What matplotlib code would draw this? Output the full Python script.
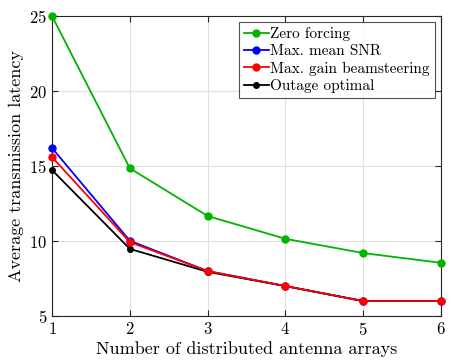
import matplotlib.pyplot as plt

plt.rcParams['font.family'] = 'serif'
plt.rcParams['font.serif'] = ['cmr10']
plt.rcParams['mathtext.fontset'] = 'cm'
plt.rcParams['axes.formatter.use_mathtext'] = True

# Data
n_arrays = [1, 2, 3, 4, 5, 6]
zero_forcing = [25.0, 14.85, 11.67, 10.15, 9.2, 8.55]
max_mean_snr = [16.2, 10.02, 8.0, 7.0, 6.0, 6.0]
max_gain_bs = [15.6, 9.93, 8.0, 7.0, 6.0, 6.0]
outage_opt = [14.73, 9.48, 7.95, 7.0, 6.0, 6.0]

fig = plt.figure(figsize=(4.5, 3.6), dpi=100)
ax = fig.add_axes([0.1156, 0.122, 0.8644, 0.8336])

ax.plot(n_arrays, zero_forcing, '-o', color='#00b400', lw=1.3, ms=5, label='Zero forcing', clip_on=False, zorder=3)
ax.plot(n_arrays, max_mean_snr, '-o', color='#0000ff', lw=1.3, ms=5, label='Max. mean SNR', clip_on=False, zorder=3)
ax.plot(n_arrays, max_gain_bs, '-o', color='#ff0000', lw=1.3, ms=5, label='Max. gain beamsteering', clip_on=False, zorder=4)
ax.plot(n_arrays, outage_opt, '-o', color='#000000', lw=1.3, ms=4, label='Outage optimal', clip_on=False, zorder=3)

ax.set_xlim(1, 6)
ax.set_ylim(5, 25)
ax.set_xticks(n_arrays)
ax.set_yticks([5, 10, 15, 20, 25])
ax.grid(True, color='#e0e0e0', lw=0.8)
ax.set_axisbelow(True)
ax.tick_params(direction='in', top=True, right=True, labelsize=12, length=4, color='#262626')
for s in ax.spines.values():
    s.set_color('#262626')
    s.set_linewidth(0.8)

ax.set_xlabel('Number of distributed antenna arrays', fontsize=13, labelpad=2)
ax.set_ylabel('Average transmission latency', fontsize=13, labelpad=4)

leg = ax.legend(loc='upper right', fontsize=11, frameon=True, fancybox=False,
                edgecolor='#262626', handlelength=1.65, handletextpad=0.1,
                borderpad=0.3, labelspacing=0.22, borderaxespad=0.42)
leg.get_frame().set_linewidth(0.8)

fig.savefig('out.png', dpi=100)
